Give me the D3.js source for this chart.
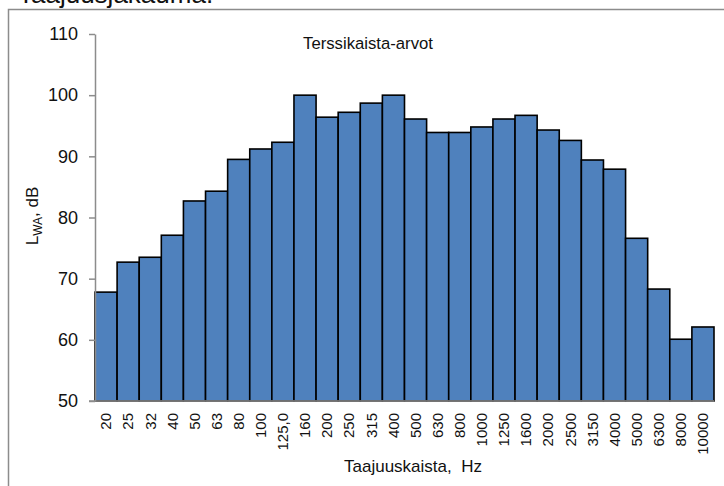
<!DOCTYPE html>
<html>
<head>
<meta charset="utf-8">
<script src="https://cdn.jsdelivr.net/npm/d3@7"></script>
<style>
  body { margin: 0; background: #fff; }
  svg { display: block; font-family: "Liberation Sans", Arial, sans-serif; }
</style>
</head>
<body>
<div id="chart-wrap"></div>
<script>
const bands = ["20", "25", "32", "40", "50", "63", "80", "100", "125,0", "160", "200", "250", "315", "400",
  "500", "630", "800", "1000", "1250", "1600", "2000", "2500", "3150", "4000", "5000", "6300", "8000", "10000"];
const levels = [67.8, 72.7, 73.5, 77.1, 82.7, 84.3, 89.5, 91.2, 92.3, 100.0, 96.4, 97.2, 98.7, 100.0,
  96.1, 93.9, 93.9, 94.8, 96.1, 96.7, 94.3, 92.6, 89.4, 87.9, 76.6, 68.3, 60.1, 62.1];
const yTicks = [50, 60, 70, 80, 90, 100, 110];

const width = 724;
const height = 486;
const margin = {top: 34, bottom: 85, left: 95, right: 10};

const data = bands.map((b, i) => ({band: b, level: levels[i]}));

const svg = d3.select("#chart-wrap")
  .append("svg")
  .attr("width", width)
  .attr("height", height);

// chart frame (cut off at the right and bottom)
svg.append("path")
  .attr("d", "M8.5," + height + "V9.5H" + width)
  .attr("fill", "none")
  .attr("stroke", "#8c8c8c")
  .attr("stroke-width", 1.5);

// caption above the frame, only its lower part is visible
svg.append("text")
  .attr("x", 18)
  .attr("y", 3)
  .attr("font-size", 26)
  .attr("fill", "#111")
  .text("Taajuusjakauma.");

const x = d3.scaleBand()
  .domain(bands)
  .range([margin.left, width - margin.right])
  .padding(0);

const y = d3.scaleLinear()
  .domain([50, 110])
  .range([height - margin.bottom, margin.top]);

// bars
svg.append("g")
  .selectAll("rect")
  .data(data)
  .join("rect")
  .attr("x", d => x(d.band))
  .attr("y", d => y(d.level))
  .attr("width", x.bandwidth())
  .attr("height", d => y(50) - y(d.level))
  .attr("fill", "#4f81bd")
  .attr("stroke", "#000")
  .attr("stroke-width", 1.6);

// Y axis
const yAxis = svg.append("g")
  .attr("transform", "translate(" + margin.left + ",0)")
  .call(d3.axisLeft(y).tickValues(yTicks).tickSize(6).tickPadding(11).tickSizeOuter(0));
yAxis.select(".domain").attr("stroke", "#8c8c8c").attr("stroke-width", 1.5);
yAxis.selectAll(".tick line").attr("stroke", "#8c8c8c").attr("stroke-width", 1.5);
yAxis.selectAll(".tick text")
  .attr("font-size", 18)
  .attr("font-family", "Liberation Sans, sans-serif")
  .attr("fill", "#111");

// X axis
const xAxis = svg.append("g")
  .attr("transform", "translate(0," + y(50) + ")")
  .call(d3.axisBottom(x).tickSize(0).tickSizeOuter(0));
xAxis.select(".domain")
  .attr("d", "M" + (margin.left - 6) + ",0H" + (width - margin.right))
  .attr("stroke", "#8c8c8c")
  .attr("stroke-width", 1.5);
xAxis.selectAll(".tick text")
  .attr("transform", "rotate(-90)")
  .attr("text-anchor", "end")
  .attr("x", -12)
  .attr("y", 0)
  .attr("dy", "0.35em")
  .attr("font-size", 15)
  .attr("font-family", "Liberation Sans, sans-serif")
  .attr("fill", "#111");

// inner title
svg.append("text")
  .attr("x", 368)
  .attr("y", 49)
  .attr("text-anchor", "middle")
  .attr("font-size", 16.7)
  .attr("fill", "#111")
  .text("Terssikaista-arvot");

// axis titles
svg.append("text")
  .attr("x", 413)
  .attr("y", 472)
  .attr("text-anchor", "middle")
  .attr("font-size", 17)
  .attr("fill", "#111")
  .attr("xml:space", "preserve")
  .text("Taajuuskaista,  Hz");

const yTitle = svg.append("text")
  .attr("transform", "translate(38,216) rotate(-90)")
  .attr("text-anchor", "middle")
  .attr("font-size", 17)
  .attr("fill", "#111");
yTitle.append("tspan").text("L");
yTitle.append("tspan").attr("font-size", 12).attr("dy", 4).text("WA");
yTitle.append("tspan").attr("dy", -4).text(", dB");
</script>
</body>
</html>
